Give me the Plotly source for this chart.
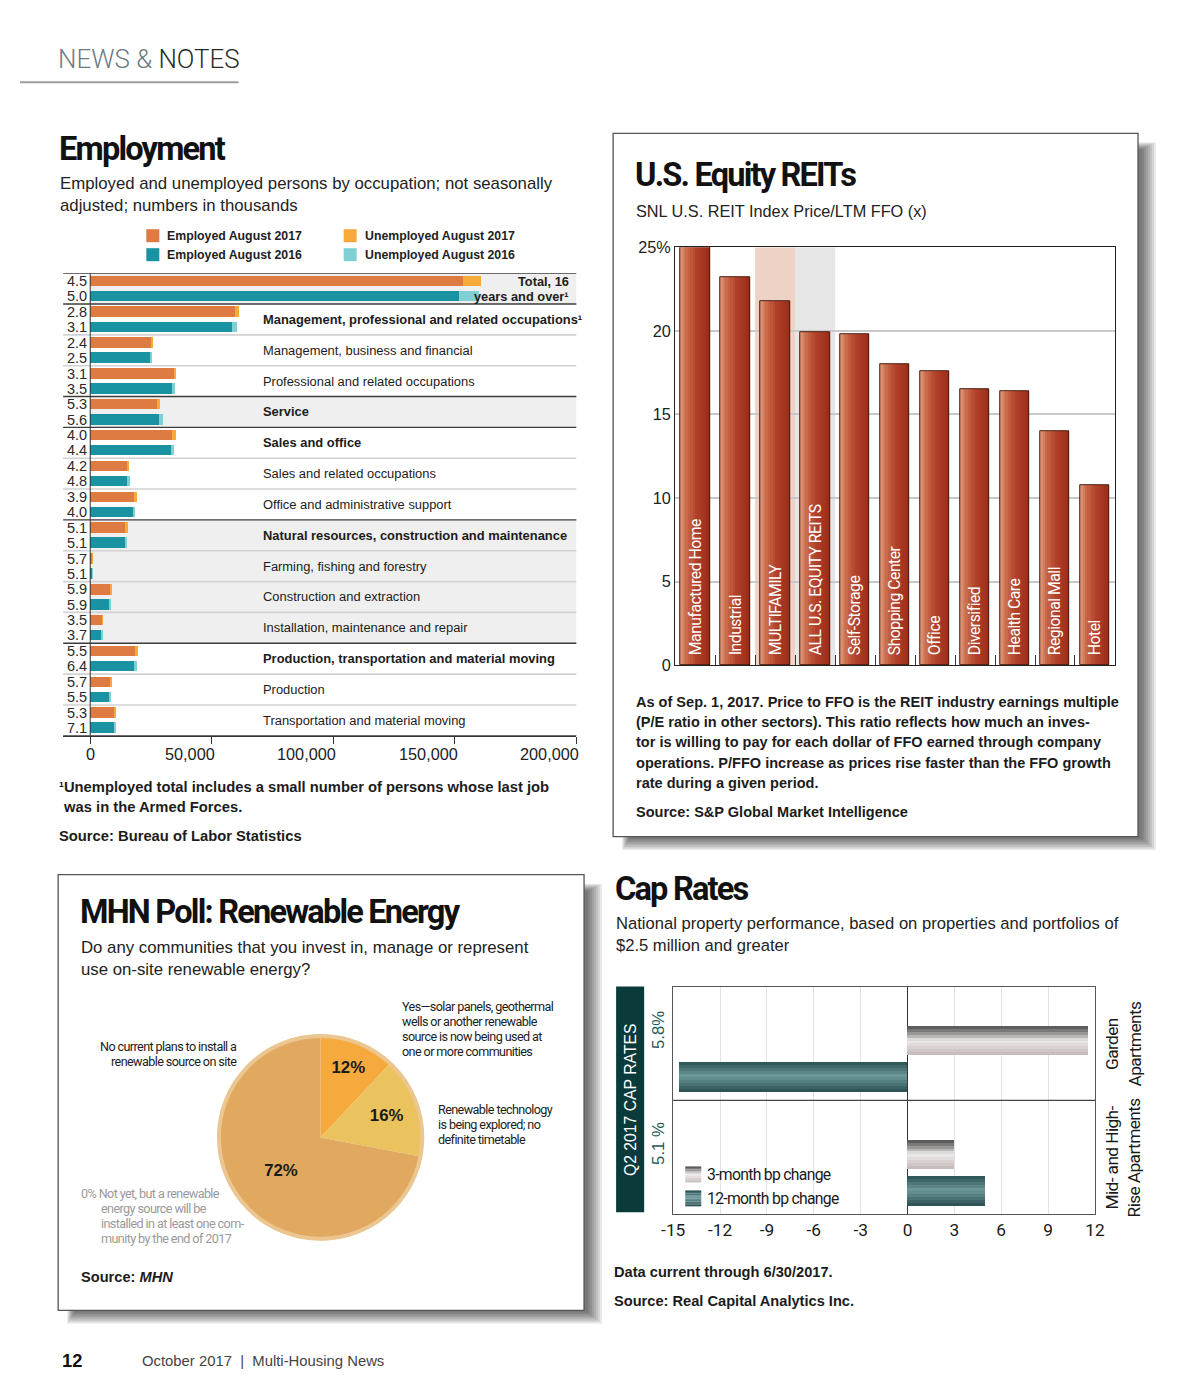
import plotly.graph_objects as go

# ---------------------------------------------------------------- data
emp_categories = [
    "Total, 16 years and over¹",
    "Management, professional and related occupations¹",
    "Management, business and financial",
    "Professional and related occupations",
    "Service",
    "Sales and office",
    "Sales and related occupations",
    "Office and administrative support",
    "Natural resources, construction and maintenance",
    "Farming, fishing and forestry",
    "Construction and extraction",
    "Installation, maintenance and repair",
    "Production, transportation and material moving",
    "Production",
    "Transportation and material moving",
]
emp_major_groups = [0, 1, 4, 5, 8, 12]
emp_shaded_groups = [0, 4, 8, 9, 10, 11]
rate_2017 = [4.5, 2.8, 2.4, 3.1, 5.3, 4.0, 4.2, 3.9, 5.1, 5.7, 5.9, 3.5, 5.5, 5.7, 5.3]
rate_2016 = [5.0, 3.1, 2.5, 3.5, 5.6, 4.4, 4.8, 4.0, 5.1, 5.1, 5.9, 3.7, 6.4, 5.5, 7.1]
employed_2017 = [153600, 59600, 25200, 34400, 27400, 33900, 15500, 18400, 14700, 1100, 8600, 5000, 18600, 8400, 10200]
unemployed_2017 = [7300, 1700, 620, 1100, 1500, 1400, 680, 750, 790, 70, 540, 180, 1080, 510, 570]
employed_2016 = [151900, 58600, 24800, 33800, 28200, 33200, 15600, 17700, 14500, 1100, 8200, 4900, 18000, 8100, 9900]
unemployed_2016 = [8000, 1900, 640, 1200, 1700, 1500, 790, 740, 780, 60, 510, 190, 1200, 470, 760]
emp_ticks = [0, 50000, 100000, 150000, 200000]
emp_legend = ["Employed August 2017", "Employed August 2016", "Unemployed August 2017", "Unemployed August 2016"]

reit_sectors = ["Manufactured Home", "Industrial", "MULTIFAMILY", "ALL U.S. EQUITY REITS", "Self-Storage",
                "Shopping Center", "Office", "Diversified", "Health Care", "Regional Mall", "Hotel"]
reit_price_ffo = [25.0, 23.2, 21.8, 19.9, 19.8, 18.0, 17.6, 16.5, 16.4, 14.0, 10.8]
reit_ticks = [0, 5, 10, 15, 20, 25]
reit_ticktext = ["0", "5", "10", "15", "20", "25%"]

pie_labels = ["Yes—solar panels, geothermal wells or another renewable source is now being used at one or more communities",
              "Renewable technology is being explored; no definite timetable",
              "No current plans to install a renewable source on site",
              "Not yet, but a renewable energy source will be installed in at least one community by the end of 2017"]
pie_values = [12, 16, 72, 0]

cap_property_types = ["Garden<br>Apartments", "Mid- and High-<br>Rise Apartments"]
cap_rate_q2_2017 = ["5.8%", "5.1 %"]
cap_3_month_bp = [11.6, 3.0]
cap_12_month_bp = [-14.6, 5.0]
cap_ticks = [-15, -12, -9, -6, -3, 0, 3, 6, 9, 12]

# ---------------------------------------------------------------- helpers
W, H = 1200, 1400
# the photographed page maps figure pixels (X, Y) to (OX + SX*X, OY + SY*Y);
# positions below are given in photo pixels and converted back
OX, SX, OY, SY = 21.9, 0.98, 15.6, 0.988
FS = 1.0 / 0.983

def px(x): return (x - OX) / SX / W
def py(y): return 1 - (y - OY) / SY / H
def f(s): return s * FS

SANS = "Liberation Sans, Arial, Helvetica, sans-serif"
COND = "Roboto, Liberation Sans, sans-serif"
INK = "#1c1c1c"

def ls(s, spacing):
    return "<span style='letter-spacing:%.2fpx'>%s</span>" % (spacing, s)

def hex2rgb(h):
    h = h.lstrip('#')
    return [int(h[i:i + 2], 16) for i in (0, 2, 4)]

def gradient(stops, n):
    out = []
    for k in range(n):
        t = (k + 0.5) / n
        for (p0, c0), (p1, c1) in zip(stops[:-1], stops[1:]):
            if p0 <= t <= p1:
                u = (t - p0) / (p1 - p0)
                a, b = hex2rgb(c0), hex2rgb(c1)
                out.append("rgb(%d,%d,%d)" % tuple(round(a[i] + (b[i] - a[i]) * u) for i in range(3)))
                break
    return out

annotations = []
shapes = []

def text(s, x, y, size=13, color=INK, family=SANS, bold=False, anchor="left", angle=0, yanchor="middle",
         spacing=None, weight=None, **kw):
    if bold:
        s = "<b>" + s + "</b>"
    if spacing is not None:
        s = ls(s, spacing)
    font = dict(size=f(size), color=color, family=family)
    if weight is not None:
        font["weight"] = weight
    d = dict(text=s, x=px(x), y=py(y), xref="paper", yref="paper", showarrow=False,
             xanchor=anchor, yanchor=yanchor, textangle=angle, font=font)
    d.update(kw)
    annotations.append(d)

def title(s, x, y):
    text(s, x, y, size=32, family=COND, bold=True, color="#111", spacing=-1.8)

def rect(x0, y0, x1, y1, fill, line=None, lw=0, layer="below", **kw):
    shapes.append(dict(type="rect", xref="paper", yref="paper", x0=px(x0), x1=px(x1), y0=py(y0), y1=py(y1),
                       fillcolor=fill, line=dict(color=line or "rgba(0,0,0,0)", width=lw), layer=layer, **kw))

def panel(x0, y0, x1, y1):
    for k in range(1, 9):
        rect(x0 + 8 + k, y0 + 8 + k, x1 + 20 - 2 * k, y1 + 15 - 1.6 * k, "rgba(0,0,0,0.085)")
    rect(x0, y0, x1, y1, "white", "#555555", 1.3)

fig = go.Figure()

# ---------------------------------------------------------------- header
text("<span style='color:#6d7c82'>NEWS &amp;</span> NOTES", 58, 58, size=25.5, color="#2a2a2a", family=COND,
     weight=300)
shapes.append(dict(type="line", xref="paper", yref="paper", x0=0, x1=px(240), y0=py(81), y1=py(81),
                   line=dict(color="#9c9c9c", width=2)))

# ---------------------------------------------------------------- Employment
title("Employment", 59, 148)
text("Employed and unemployed persons by occupation; not seasonally", 60, 182, size=16.5, color="#222")
text("adjusted; numbers in thousands", 60, 204, size=16.5, color="#222")

ORANGE, LORANGE, TEAL, LTEAL = "#dd7b43", "#f7a93a", "#1993a2", "#80cfd4"
leg_pos = [(148, 234.5), (148, 253.5), (345, 234.5), (345, 253.5)]
for (lx, ly), col, lab in zip(leg_pos, [ORANGE, TEAL, LORANGE, LTEAL], emp_legend):
    rect(lx, ly - 6.5, lx + 13, ly + 6.5, col)
    text(lab, lx + 19, ly, size=12.1, bold=True, color="#222")

E_LEFT, E_ZERO, E_RIGHT = 65, 92, 577.3
n_emp = len(emp_categories)
OFF17, OFF16, BW = 0.255, 0.745, 0.34
x_left_val = -(E_ZERO - E_LEFT) / (E_RIGHT - E_ZERO) * 200000.0

for i in emp_shaded_groups:
    shapes.append(dict(type="rect", xref="x", yref="y", x0=0, x1=200000, y0=i, y1=i + 1,
                       fillcolor="#efefef", line=dict(width=0), layer="below"))

y17 = [i + OFF17 for i in range(n_emp)]
y16 = [i + OFF16 for i in range(n_emp)]
fig.add_trace(go.Bar(x=employed_2017, y=y17, orientation="h", width=BW, marker=dict(color=ORANGE, line=dict(width=0)),
                     name=emp_legend[0], xaxis="x", yaxis="y"))
fig.add_trace(go.Bar(x=unemployed_2017, y=y17, base=employed_2017, orientation="h", width=BW,
                     marker=dict(color=LORANGE, line=dict(width=0)), name=emp_legend[2], xaxis="x", yaxis="y"))
fig.add_trace(go.Bar(x=employed_2016, y=y16, orientation="h", width=BW, marker=dict(color=TEAL, line=dict(width=0)),
                     name=emp_legend[1], xaxis="x", yaxis="y"))
fig.add_trace(go.Bar(x=unemployed_2016, y=y16, base=employed_2016, orientation="h", width=BW,
                     marker=dict(color=LTEAL, line=dict(width=0)), name=emp_legend[3], xaxis="x", yaxis="y"))

dark_bounds = set([0, 1, 4, 5, 8, 12, n_emp])
for b in range(n_emp + 1):
    dark = b in dark_bounds
    shapes.append(dict(type="line", xref="x domain", yref="y", x0=0, x1=1, y0=b, y1=b,
                       line=dict(color="#3c3c3c" if dark else "#d2d2d2", width=1.4 if dark else 1.6), layer="above"))
shapes.append(dict(type="line", xref="x", yref="y", x0=0, x1=0, y0=0, y1=n_emp,
                   line=dict(color="#333", width=1), layer="above"))

for i in range(n_emp):
    for r, yy in ((rate_2017[i], y17[i]), (rate_2016[i], y16[i])):
        annotations.append(dict(text="%.1f" % r, x=px(67), xref="paper", y=yy, yref="y", xanchor="left",
                                yanchor="middle", showarrow=False, font=dict(size=f(14.3), color="#2a2a2a", family=SANS)))
    if i == 0:
        words = emp_categories[0].split(" ")
        for line, yy in ((" ".join(words[:2]), y17[0]), (" ".join(words[2:]), y16[0])):
            annotations.append(dict(text="<b>%s</b>" % line, x=px(572), xref="paper", y=yy, yref="y",
                                    xanchor="right", yanchor="middle", showarrow=False,
                                    font=dict(size=f(12.6), color=INK, family=SANS)))
    else:
        lab = emp_categories[i]
        if i in emp_major_groups:
            lab = "<b>%s</b>" % lab
        annotations.append(dict(text=lab, x=px(262), xref="paper", y=i + 0.5, yref="y", xanchor="left",
                                yanchor="middle", showarrow=False, font=dict(size=f(12.7), color=INK, family=SANS)))

for v in emp_ticks:
    annotations.append(dict(text="{:,}".format(v), x=v, xref="x", y=py(753), yref="paper",
                            xanchor="center" if v == 0 else "right", xshift=0 if v == 0 else 5,
                            yanchor="middle", showarrow=False, font=dict(size=f(16), color="#222", family=SANS)))

text("¹Unemployed total includes a small number of persons whose last job", 59, 786, size=14.5, bold=True)
text(" was in the Armed Forces.", 60, 806, size=14.5, bold=True)
text("Source: Bureau of Labor Statistics", 59, 835, size=14.5, bold=True)

# ---------------------------------------------------------------- REIT panel
panel(614, 132, 1138, 836)
title("U.S. Equity REITs", 634, 174)
text("SNL U.S. REIT Index Price/LTM FFO (x)", 635, 210, size=16, color="#222")

ib = reit_sectors.index("MULTIFAMILY")
ia = reit_sectors.index("ALL U.S. EQUITY REITS")
shapes.append(dict(type="rect", xref="x2", yref="y2", x0=ib - 0.5, x1=ib + 0.5, y0=0, y1=25,
                   fillcolor="#eed2c6", line=dict(width=0), layer="below"))
shapes.append(dict(type="rect", xref="x2", yref="y2", x0=ia - 0.5, x1=ia + 0.5, y0=0, y1=25,
                   fillcolor="#e6e6e6", line=dict(width=0), layer="below"))

RW, NS = 0.73, 12
reit_cols = gradient([(0, "#da977b"), (0.22, "#c86746"), (0.55, "#b1402a"), (1, "#992c17")], NS)
for k, col in enumerate(reit_cols):
    fig.add_trace(go.Bar(x=reit_sectors, y=reit_price_ffo, width=RW / NS, offset=-RW / 2 + k * RW / NS,
                         marker=dict(color=col, line=dict(width=0)), xaxis="x2", yaxis="y2", hoverinfo="skip"))
fig.add_trace(go.Bar(x=reit_sectors, y=reit_price_ffo, width=RW, offset=-RW / 2,
                     marker=dict(color="rgba(0,0,0,0)", line=dict(color="#4a1b10", width=1)),
                     xaxis="x2", yaxis="y2", name="Price/LTM FFO"))
TPAD = 0.45  # label starts slightly above the bar base, as in the print layout
fig.add_trace(go.Bar(x=reit_sectors, y=[v - TPAD for v in reit_price_ffo], base=TPAD, width=RW, offset=-RW / 2,
                     marker=dict(color="rgba(0,0,0,0)", line=dict(width=0)),
                     text=reit_sectors, texttemplate=ls("%{text}", -0.5), textposition="inside",
                     insidetextanchor="start", textangle=-90, hoverinfo="skip",
                     textfont=dict(color="white", size=f(15.5), family=COND), xaxis="x2", yaxis="y2"))

for i, ln in enumerate(["As of Sep. 1, 2017. Price to FFO is the REIT industry earnings multiple",
                        "(P/E ratio in other sectors). This ratio reflects how much an inves-",
                        "tor is willing to pay for each dollar of FFO earned through company",
                        "operations. P/FFO increase as prices rise faster than the FFO growth",
                        "rate during a given period."]):
    text(ln, 635, 701.5 + i * 20.1, size=14.3, bold=True)
text("Source: S&amp;P Global Market Intelligence", 635, 811, size=14.3, bold=True)

# ---------------------------------------------------------------- MHN poll panel
panel(60, 874, 585, 1310)
title("MHN Poll: Renewable Energy", 80, 911)
text("Do any communities that you invest in, manage or represent", 81, 947, size=16.5, color="#222")
text("use on-site renewable energy?", 81, 969, size=16.5, color="#222")

PC, PR = (322, 1137), 103
fig.add_trace(go.Pie(labels=[l for l, v in zip(pie_labels, pie_values) if v > 0],
                     values=[v for v in pie_values if v > 0],
                     sort=False, direction="clockwise", rotation=0,
                     marker=dict(colors=["#f6a93c", "#ebc35e", "#e1a85f"], line=dict(width=0)),
                     texttemplate="<b>%{value}%</b>", textposition="inside", insidetextorientation="horizontal",
                     textfont=dict(size=f(16.5), color="#1a1a1a", family=SANS), showlegend=False,
                     domain=dict(x=[px(PC[0] - PR), px(PC[0] + PR)], y=[py(PC[1] + PR), py(PC[1] - PR)])))
shapes.append(dict(type="circle", xref="paper", yref="paper", x0=px(PC[0] - PR + 1.5), x1=px(PC[0] + PR - 1.5),
                   y0=py(PC[1] + PR - 1.5), y1=py(PC[1] - PR + 1.5), line=dict(color="#ebc691", width=4),
                   layer="above"))

PN, PSP = 12.4, -0.6
for i, ln in enumerate(["Yes—solar panels, geothermal", "wells or another renewable",
                        "source is now being used at", "one or more communities"]):
    text(ln, 401, 1006 + 15 * i, size=PN, family=COND, spacing=PSP)
for i, ln in enumerate(["No current plans to install a", "renewable source on site"]):
    text(ln, 241, 1046 + 15 * i, size=PN, family=COND, anchor="right", spacing=PSP)
for i, ln in enumerate(["Renewable technology", "is being explored; no", "definite timetable"]):
    text(ln, 437, 1109 + 15 * i, size=PN, family=COND, spacing=PSP)
for i, ln in enumerate(["%d%% Not yet, but a renewable" % pie_values[3], "energy source will be",
                        "installed in at least one com-", "munity by the end of 2017"]):
    text(ln, 81 if i == 0 else 101, 1193 + 15 * i, size=PN, family=COND, color="#9a9a9a", spacing=PSP)
text("Source: <i>MHN</i>", 81, 1277, size=14.4, bold=True)

# ---------------------------------------------------------------- Cap rates
title("Cap Rates", 614, 888)
text("National property performance, based on properties and portfolios of", 615, 923, size=16.3, color="#222")
text("$2.5 million and greater", 615, 945, size=16.3, color="#222")

rect(617, 986, 645, 1212, "#0b3a3b")
text("Q2 2017 CAP RATES", 631.5, 1099, size=15.5, color="white", anchor="center", angle=-90)

n_cap = len(cap_property_types)
CH, NC = 0.26, 10
OFF3, OFF12 = 0.47, 0.79
g3 = gradient([(0, "#4d4d4d"), (0.3, "#a8a4a4"), (0.5, "#efecec"), (0.75, "#d9d1d1"), (1, "#c2b8b8")], NC)
g12 = gradient([(0, "#294f52"), (0.45, "#6b9698"), (0.6, "#5c888b"), (1, "#284c4f")], NC)
for vals, off, cols in ((cap_3_month_bp, OFF3, g3), (cap_12_month_bp, OFF12, g12)):
    for k, col in enumerate(cols):
        fig.add_trace(go.Bar(x=vals, y=[i + off for i in range(n_cap)], orientation="h",
                             width=CH / NC, offset=-CH / 2 + k * CH / NC,
                             marker=dict(color=col, line=dict(width=0)), xaxis="x3", yaxis="y3", hoverinfo="skip"))
shapes.append(dict(type="line", xref="x3 domain", yref="y3", x0=0, x1=1, y0=1, y1=1,
                   line=dict(color="#444", width=1.3), layer="above"))

for i in range(n_cap):
    annotations.append(dict(text=cap_rate_q2_2017[i], x=px(660), xref="paper", y=i + 0.38, yref="y3",
                            textangle=-90, showarrow=False, xanchor="center", yanchor="middle",
                            font=dict(size=f(16.5), color="#1d5b5b", family=SANS)))
    annotations.append(dict(text=ls(cap_property_types[i], -0.6), x=px(1123), xref="paper", y=i + 0.5, yref="y3",
                            textangle=-90, showarrow=False, xanchor="center", yanchor="middle",
                            font=dict(size=f(17), color="#1a1a1a", family=COND)))

for (sy, cols, lab) in ((1174, g3, "3-month bp change"), (1198, g12, "12-month bp change")):
    n = len(cols)
    for k, col in enumerate(cols):
        rect(686, sy - 8 + 16 * k / n, 702, sy - 8 + 16 * (k + 1) / n, col, layer="above")
    text(lab, 706, sy, size=15.5, family=COND, color="#1a1a1a", spacing=-0.7)

text("Data current through 6/30/2017.", 613, 1272, size=14.4, bold=True)
text("Source: Real Capital Analytics Inc.", 613, 1301, size=14.4, bold=True)

# ---------------------------------------------------------------- footer
text("12", 62, 1360, size=18, bold=True, color="#111")
text("October 2017  |  Multi-Housing News", 142, 1361, size=14.6, color="#444")

# ---------------------------------------------------------------- layout
fig.update_layout(
    width=W, height=H, margin=dict(l=0, r=0, t=0, b=0),
    paper_bgcolor="white", plot_bgcolor="rgba(0,0,0,0)",
    barmode="overlay", bargap=0, showlegend=False,
    annotations=annotations, shapes=shapes,
    xaxis=dict(domain=[px(E_LEFT), px(E_RIGHT)], range=[x_left_val, 200000],
               tickvals=emp_ticks, showticklabels=False, ticks="outside", ticklen=7, tickcolor="#333",
               tickwidth=1.2, showgrid=False, zeroline=False, showline=True, linecolor="#333", linewidth=1.4,
               anchor="y", fixedrange=True),
    yaxis=dict(domain=[py(735), py(272)], range=[n_emp, 0], visible=False, anchor="x"),
    xaxis2=dict(domain=[px(676), px(1115)], type="category", categoryarray=reit_sectors, categoryorder="array",
                showticklabels=False, ticks="inside", tickson="boundaries", ticklen=10, tickcolor="#333",
                showgrid=False, showline=True, mirror=True, linecolor="#222", linewidth=1.3, anchor="y2"),
    yaxis2=dict(domain=[py(664.5), py(246)], range=[0, 25], tickvals=reit_ticks, ticktext=reit_ticktext,
                tickfont=dict(size=f(16), color="#222", family=SANS), showgrid=True, gridcolor="#c9c9c9",
                gridwidth=1.5, zeroline=False, showline=True, mirror=True, linecolor="#222", linewidth=1.3,
                ticks="", anchor="x2"),
    xaxis3=dict(domain=[px(674), px(1095)], range=[-15, 12], tickvals=cap_ticks,
                ticktext=[str(v) for v in cap_ticks],
                tickfont=dict(size=f(17), color="#1a1a1a", family=COND), showgrid=True, gridcolor="#e2e2e2",
                zeroline=True, zerolinecolor="#333", zerolinewidth=1.2, showline=True, mirror=True,
                linecolor="#555", linewidth=1.2, ticks="", anchor="y3"),
    yaxis3=dict(domain=[py(1214), py(986)], range=[n_cap, 0], showticklabels=False, showgrid=False,
                zeroline=False, showline=True, mirror=True, linecolor="#555", linewidth=1.2, ticks="",
                anchor="x3"),
)

fig.write_html("out.html")
